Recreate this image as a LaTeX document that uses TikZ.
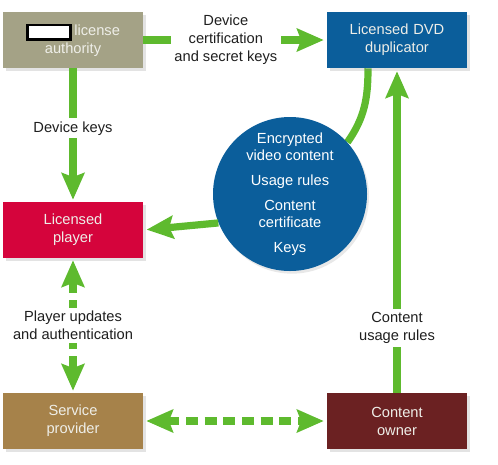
\documentclass[tikz,border=0pt]{standalone}
\usepackage{fontspec}
\setmainfont{Liberation Sans}
\usetikzlibrary{shapes, arrows.meta, shadows, backgrounds}
\definecolor{authgray}{RGB}{164,162,134}
\definecolor{dupblue}{RGB}{11,94,155}
\definecolor{playerred}{RGB}{213,4,60}
\definecolor{servbrown}{RGB}{166,130,74}
\definecolor{ownerred}{RGB}{107,33,34}
\definecolor{flowgreen}{RGB}{94,186,46}
\definecolor{boxtext}{RGB}{238,238,232}
\tikzstyle{block} = [rectangle, text=boxtext, text width=100pt, align=center,
	minimum width=105pt, minimum height=42pt, inner sep=0pt, font=\fontsize{11}{13.5}\selectfont,
	drop shadow={shadow xshift=2pt, shadow yshift=-2.5pt, opacity=0.22}]
\tikzstyle{disc} = [circle, fill=dupblue, text=white, minimum size=115.5pt, inner sep=0pt,
	align=center, font=\fontsize{11}{12.75}\selectfont,
	drop shadow={shadow xshift=1.5pt, shadow yshift=-2pt, opacity=0.18}]
\tikzstyle{lbl} = [fill=white, text=black!88, align=center, inner sep=2.5pt, font=\fontsize{11}{13.5}\selectfont]
\tikzstyle{flow} = [color=flowgreen, line width=5.4pt]
\tikzstyle{dflow} = [flow, dash pattern=on 9pt off 5pt]

\begin{document}
\begin{tikzpicture}[x=0.75pt, y=-0.75pt, >={Stealth[length=20pt, width=17pt, inset=3pt]}]
		\useasboundingbox (0,0) rectangle (498,464);
		%Place nodes
		\node [block, fill=authgray] (auth) at (73,40) {{\setlength{\fboxrule}{2.1pt}\setlength{\fboxsep}{0pt}\fcolorbox{black}{white}{\rule[-2pt]{0pt}{8.6pt}\hspace{30pt}}}\hspace{2pt}license\\authority};
		\node [block, fill=dupblue, right of=auth, node distance=243pt] (dup) {Licensed DVD\\duplicator};
		\node [block, fill=playerred, below of=auth, node distance=142.5pt] (player) {Licensed\\player};
		\node [block, fill=servbrown, below of=player, node distance=143.25pt] (serv) {Service\\provider};
		\node [block, fill=ownerred, right of=serv, node distance=243pt] (owner) {Content\\owner};
		\node [disc] (vid) at (290,194) {Encrypted\\video content\\[6pt]Usage rules\\[6pt]Content\\certificate\\[6pt]Keys};
		
		%Draw edges
		\draw [flow, ->, shorten >=2.25pt] (auth) -- node [lbl, pos=0.45] {Device\\certification\\and secret keys} (dup);
		\draw [flow, ->, shorten >=1.5pt] (auth) -- node [lbl, pos=0.45] {Device keys} (player);
		\draw [flow, ->, shorten >=2.25pt] (owner) -- node [lbl, pos=0.2] {Content\\usage rules} (dup);
		\draw [flow, ->, shorten >=2.5pt] (vid.202) -- (player.east);
		\begin{scope}[on background layer]
			\draw [flow] ([xshift=-21.75pt]dup.south) to [out=-90, in=55] (vid.42);
		\end{scope}
		
		\draw [dflow, <->, shorten <=1.5pt, shorten >=1.5pt] (player) -- node [lbl] {Player updates\\and authentication} (serv);
		\draw [dflow, <->, shorten <=2.25pt, shorten >=2.25pt] (serv) -- (owner);
		
	\end{tikzpicture}
\end{document}
